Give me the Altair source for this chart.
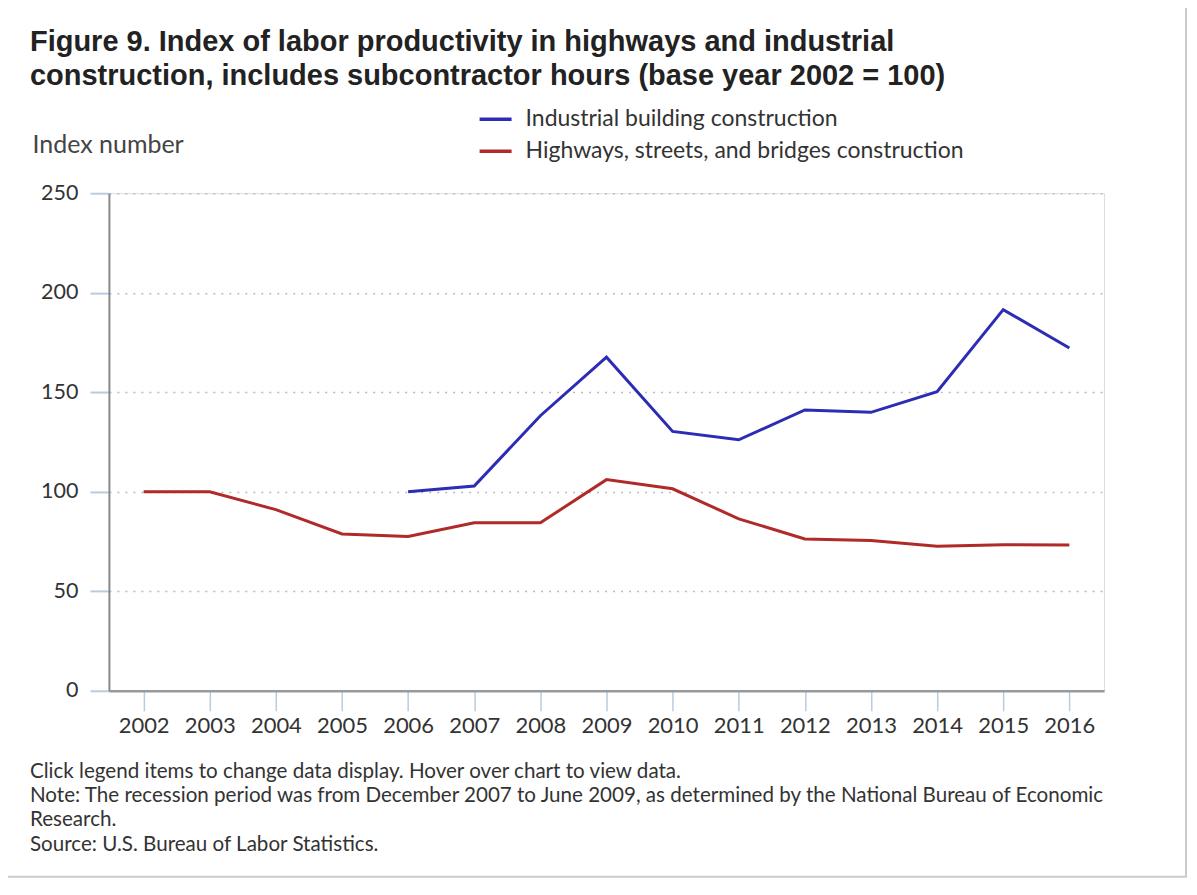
import altair as alt
import pandas as pd

years = ["2002", "2003", "2004", "2005", "2006", "2007", "2008", "2009",
         "2010", "2011", "2012", "2013", "2014", "2015", "2016"]
industrial = [None, None, None, None, 100.0, 102.9, 138.2, 167.6,
              130.3, 126.1, 141.1, 139.9, 150.3, 191.5, 172.2]
highways = [100.0, 100.0, 91.0, 78.8, 77.5, 84.4, 84.4, 106.1,
            101.5, 86.4, 76.3, 75.5, 72.6, 73.4, 73.3]
series_names = ["Industrial building construction",
                "Highways, streets, and bridges construction"]
series_colors = ["#2c2cb4", "#b02a2a"]

title_lines = ["Figure 9. Index of labor productivity in highways and industrial",
               "construction, includes subcontractor hours (base year 2002 = 100)"]
footer_lines = [
    "Click legend items to change data display. Hover over chart to view data.",
    "Note: The recession period was from December 2007 to June 2009, as determined by the National Bureau of Economic",
    "Research.",
    "Source: U.S. Bureau of Labor Statistics.",
]

rows = []
for name, vals in zip(series_names, [industrial, highways]):
    for y, v in zip(years, vals):
        if v is not None:
            rows.append({"year": y, "value": v, "series": name})
df = pd.DataFrame(rows)

FONT = "Lato"
W, H = 996, 498

lines = alt.Chart(df).mark_line(strokeWidth=3).encode(
    x=alt.X("year:O", sort=years,
            scale=alt.Scale(type="point", padding=0.525),
            axis=alt.Axis(title=None, labelAngle=0, labelFont=FONT, labelFontSize=22,
                          labelColor="#333", labelPadding=5,
                          domainColor="#999", domainWidth=2.5,
                          tickColor="#b8cce0", tickSize=20, tickWidth=1.5, grid=False)),
    y=alt.Y("value:Q", scale=alt.Scale(domain=[0, 250]),
            axis=alt.Axis(values=[0, 50, 100, 150, 200, 250], title="Index number",
                          titleAngle=0, titleX=-77, titleY=-49, titleAlign="left",
                          titleBaseline="middle", titleFont=FONT, titleFontSize=25,
                          titleFontWeight="normal", titleColor="#444",
                          labelFont=FONT, labelFontSize=21.5, labelColor="#333",
                          labelPadding=12, domainColor="#888", domainWidth=2,
                          tickColor="#b8cce0", tickSize=19, tickWidth=2,
                          grid=True, gridColor="#bbbbbb", gridDash=[2, 6], gridWidth=1.5)),
    color=alt.Color("series:N", sort=series_names,
                    scale=alt.Scale(domain=series_names, range=series_colors),
                    legend=alt.Legend(title=None, orient="none", legendX=369, legendY=-92,
                                      symbolType="stroke", symbolSize=1024,
                                      symbolStrokeWidth=3.5, labelFont=FONT,
                                      labelFontSize=23, labelColor="#333",
                                      labelOffset=12, rowPadding=2, labelLimit=600)),
)

frame = alt.Chart(alt.Data(values=[{}])).mark_rect(
    fill=None, stroke="#cccccc", strokeWidth=2
).encode(x=alt.value(-102), x2=alt.value(1078), y=alt.value(-187), y2=alt.value(684))

title = alt.Chart(alt.Data(values=[{}])).mark_text(
    align="left", baseline="alphabetic", font="Liberation Sans", fontSize=29,
    fontWeight="bold", color="#222", lineBreak="\n", lineHeight=34
).encode(x=alt.value(-79), y=alt.value(-142), text=alt.value("\n".join(title_lines)))

footer = alt.Chart(alt.Data(values=[{}])).mark_text(
    align="left", baseline="middle", font=FONT, fontSize=20.6, color="#333",
    lineBreak="\n", lineHeight=24.4
).encode(x=alt.value(-79), y=alt.value(579), text=alt.value("\n".join(footer_lines)))

chart = alt.layer(frame, lines, title, footer).properties(
    width=W, height=H,
    autosize=alt.AutoSizeParams(type="none"),
    padding={"left": 101, "top": 185, "right": 85, "bottom": 195},
).configure_view(stroke=None).configure(background="white")

chart.save("out.html", embed_options={"renderer": "svg", "actions": False})
